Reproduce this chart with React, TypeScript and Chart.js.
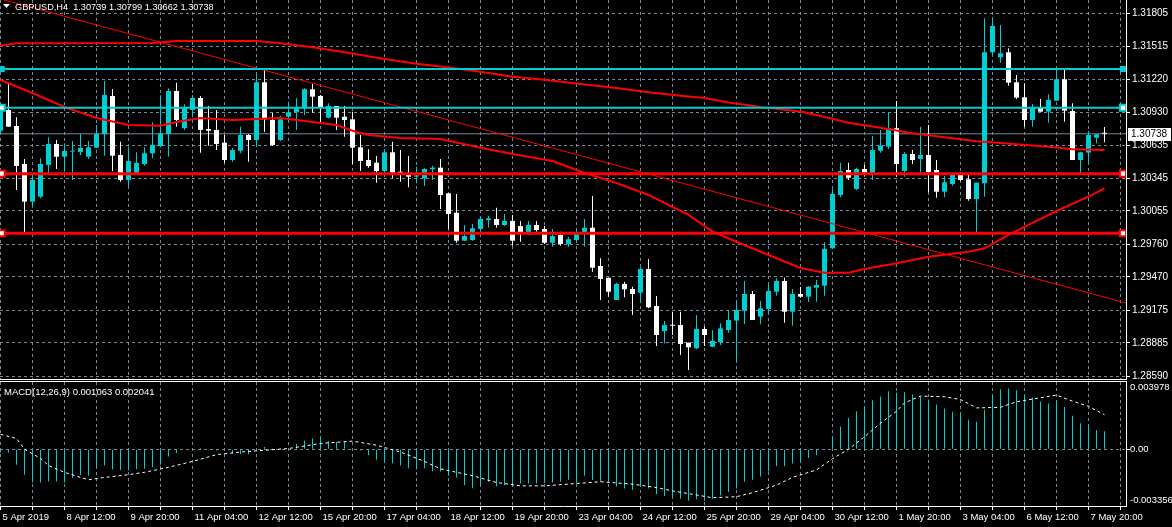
import React, { useEffect, useRef } from "react";
import { Chart, registerables } from "chart.js";

Chart.register(...registerables);

// ---------------- data ----------------
const symbol = "GBPUSD";
const timeframe = "H4";

const opens = [
  1.30765, 1.30949, 1.30807, 1.3047, 1.30137, 1.30181, 1.30462, 1.30648, 1.30535, 1.3058,
  1.30577, 1.30535, 1.30615, 1.30736, 1.31073, 1.3055, 1.30329, 1.30373, 1.3047, 1.30565,
  1.3063, 1.30736, 1.31117, 1.30787, 1.30949, 1.31055, 1.3078, 1.30772, 1.30659, 1.30506,
  1.30588, 1.30727, 1.30683, 1.31194, 1.3086, 1.30683, 1.30889, 1.30928, 1.30964, 1.31132,
  1.31073, 1.30881, 1.30984, 1.30889, 1.30866, 1.30618, 1.30506, 1.30482, 1.30408, 1.30574,
  1.30402, 1.30382, 1.30358, 1.30344, 1.30424, 1.30438, 1.30211, 1.30039, 1.29791, 1.29797,
  1.29895, 1.29974, 1.29983, 1.2993, 1.29966, 1.29921, 1.29857, 1.2993, 1.29895, 1.29773,
  1.29842, 1.29762, 1.29797, 1.29857, 1.29906, 1.29567, 1.29463, 1.29266, 1.29408, 1.29363,
  1.29331, 1.2954, 1.29213, 1.28991, 1.29044, 1.29044, 1.28888, 1.28838, 1.29009, 1.28852,
  1.28891, 1.29, 1.29083, 1.29171, 1.29319, 1.29118, 1.29186, 1.29339, 1.29434, 1.29162,
  1.29319, 1.29295, 1.29375, 1.29393, 1.29724, 1.30196, 1.30417, 1.30249, 1.30426, 1.30393,
  1.30588, 1.30624, 1.30787, 1.30408, 1.30559, 1.30515, 1.3055, 1.30417, 1.30225, 1.30293,
  1.30388, 1.30335, 1.3016, 1.303, 1.3146, 1.31416, 1.3146, 1.31194, 1.31061, 1.3086,
  1.30973, 1.30934, 1.31031, 1.31221, 1.3094, 1.30506, 1.30571, 1.30703, 1.30739,
];
const highs = [
  1.30993, 1.31191, 1.30884, 1.30515, 1.30373, 1.30521, 1.30707, 1.30683, 1.30654, 1.30674,
  1.30736, 1.30674, 1.30816, 1.31206, 1.31135, 1.30668, 1.30618, 1.30574, 1.30618, 1.3084,
  1.31079, 1.31141, 1.31191, 1.30999, 1.31082, 1.31073, 1.30984, 1.30949, 1.30727, 1.30609,
  1.30801, 1.30736, 1.31259, 1.31309, 1.30925, 1.30896, 1.31022, 1.31052, 1.31141, 1.31179,
  1.31082, 1.31008, 1.30984, 1.30984, 1.30934, 1.30727, 1.30601, 1.30541, 1.30601, 1.30668,
  1.30594, 1.30541, 1.30447, 1.30432, 1.30455, 1.30515, 1.30211, 1.30205, 1.2993, 1.29939,
  1.30004, 1.3001, 1.30083, 1.30028, 1.30019, 1.29966, 1.29966, 1.29966, 1.29921, 1.29895,
  1.29871, 1.29827, 1.29901, 1.29983, 1.30187, 1.29635, 1.29463, 1.29419, 1.29428, 1.29384,
  1.29555, 1.29629, 1.29301, 1.2908, 1.29162, 1.29162, 1.28888, 1.29133, 1.29029, 1.29,
  1.2906, 1.29171, 1.29251, 1.29434, 1.29346, 1.29257, 1.29399, 1.29458, 1.29463, 1.29363,
  1.29381, 1.2939, 1.29443, 1.29777, 1.30246, 1.30482, 1.30482, 1.30438, 1.30462, 1.30718,
  1.30772, 1.30928, 1.31028, 1.30574, 1.30594, 1.30801, 1.30816, 1.30506, 1.30364, 1.30393,
  1.30397, 1.30382, 1.30305, 1.31761, 1.3177, 1.31702, 1.31495, 1.31259, 1.31185, 1.31002,
  1.31046, 1.31088, 1.31303, 1.31303, 1.31008, 1.30579, 1.30763, 1.30734, 1.30799,
];
const lows = [
  1.30745, 1.30801, 1.3024, 1.29857, 1.30083, 1.30167, 1.30373, 1.30426, 1.30402, 1.30329,
  1.3055, 1.30515, 1.30615, 1.30544, 1.30408, 1.30314, 1.30276, 1.30373, 1.30455, 1.30521,
  1.30618, 1.30535, 1.30801, 1.30772, 1.30884, 1.30571, 1.30633, 1.30594, 1.30482, 1.30491,
  1.30565, 1.30491, 1.30624, 1.30757, 1.3063, 1.30674, 1.30851, 1.30772, 1.30904, 1.30925,
  1.30831, 1.30875, 1.30772, 1.30712, 1.30468, 1.30408, 1.30438, 1.30305, 1.30367, 1.30344,
  1.30314, 1.30264, 1.303, 1.30276, 1.30329, 1.30072, 1.29895, 1.29773, 1.29791, 1.29791,
  1.29835, 1.29906, 1.29906, 1.29921, 1.29747, 1.29782, 1.29842, 1.29871, 1.29762, 1.29738,
  1.29747, 1.29738, 1.29782, 1.29738, 1.29517, 1.29266, 1.29295, 1.29266, 1.2929, 1.29133,
  1.29251, 1.29192, 1.28858, 1.28882, 1.28956, 1.28779, 1.28646, 1.28829, 1.28858, 1.28847,
  1.28867, 1.28976, 1.28726, 1.29053, 1.29089, 1.29051, 1.29148, 1.29304, 1.29065, 1.29038,
  1.29286, 1.29248, 1.29251, 1.29304, 1.29724, 1.30176, 1.30329, 1.3024, 1.30367, 1.30329,
  1.30571, 1.30603, 1.30358, 1.30358, 1.3047, 1.30379, 1.3022, 1.30172, 1.30176, 1.30278,
  1.3032, 1.30145, 1.29862, 1.30181, 1.31436, 1.31368, 1.31164, 1.31046, 1.30801, 1.30801,
  1.30934, 1.30836, 1.31031, 1.30845, 1.30506, 1.30382, 1.30486, 1.30654, 1.30662,
];
const closes = [
  1.30949, 1.30801, 1.30453, 1.30137, 1.30329, 1.3047, 1.30648, 1.30535, 1.30586, 1.30586,
  1.30612, 1.30618, 1.30736, 1.31082, 1.30544, 1.30329, 1.30497, 1.30479, 1.30565, 1.30639,
  1.30742, 1.31117, 1.3086, 1.30969, 1.31055, 1.30772, 1.30765, 1.30648, 1.30506, 1.30594,
  1.30727, 1.30683, 1.31194, 1.30866, 1.30639, 1.30866, 1.30928, 1.30964, 1.31132, 1.31067,
  1.30969, 1.30984, 1.30881, 1.3086, 1.30615, 1.30497, 1.30453, 1.30408, 1.30574, 1.30393,
  1.30382, 1.30358, 1.3037, 1.30426, 1.30438, 1.30196, 1.30028, 1.29791, 1.29833, 1.29901,
  1.29983, 1.29989, 1.2993, 1.29966, 1.29791, 1.29862, 1.2993, 1.29886, 1.29773, 1.29833,
  1.29762, 1.29804, 1.29866, 1.29906, 1.29552, 1.29452, 1.29339, 1.29408, 1.29361, 1.29319,
  1.2954, 1.29201, 1.28956, 1.29044, 1.29038, 1.28876, 1.28847, 1.29009, 1.28956, 1.28905,
  1.29015, 1.29089, 1.29177, 1.29319, 1.29089, 1.29192, 1.29346, 1.29434, 1.29162, 1.29319,
  1.29295, 1.29384, 1.29399, 1.29718, 1.30205, 1.30408, 1.30349, 1.30426, 1.30393, 1.30594,
  1.30633, 1.30787, 1.3047, 1.30559, 1.30506, 1.3055, 1.304, 1.30225, 1.30308, 1.30388,
  1.30329, 1.3016, 1.30305, 1.3146, 1.31693, 1.31451, 1.31191, 1.31058, 1.3086, 1.30973,
  1.30934, 1.31037, 1.31221, 1.30943, 1.30506, 1.30574, 1.30727, 1.30734, 1.30738,
];

const slowMaBars = [0, 2, 19, 22, 32, 35, 39, 43, 48, 52, 56, 60, 64, 68, 72, 77, 81, 85, 88, 91, 95, 100, 102, 106, 110, 114, 118, 122, 127, 131, 134, 138];
const slowMaValues = [
  1.31518, 1.3154, 1.31542, 1.3156, 1.3156, 1.3154, 1.31504, 1.31461, 1.314, 1.31359, 1.31326,
  1.31288, 1.31244, 1.31217, 1.31183, 1.31144, 1.31106, 1.31075, 1.31055, 1.31016, 1.30975,
  1.30935, 1.30904, 1.30836, 1.30792, 1.30742, 1.30707, 1.30672, 1.30645, 1.30624, 1.30601, 1.30594,
];
const fastMaBars = [0, 4, 8, 12, 16, 20, 22, 25, 29, 32, 35, 37, 40, 42, 44, 46, 50, 55, 60, 64, 69, 73, 77, 81, 83, 86, 89, 92, 96, 100, 103, 106, 108, 112, 116, 121, 123, 126, 129, 132, 136, 138];
const fastMaValues = [
  1.31214, 1.31099, 1.30975, 1.30878, 1.30816, 1.3081, 1.30842, 1.30878, 1.3086, 1.30869,
  1.30878, 1.3086, 1.30834, 1.30816, 1.30765, 1.30727, 1.30701, 1.30692, 1.30615, 1.30559,
  1.30497, 1.30391, 1.30302, 1.30196, 1.30125, 1.30019, 1.29871, 1.29782, 1.29664, 1.29549,
  1.29508, 1.29508, 1.2954, 1.29591, 1.29649, 1.29694, 1.29724, 1.29842, 1.29948, 1.30054,
  1.30181, 1.30255,
];

const trendBars = [0, 141];
const trendValues = [1.31932, 1.29233];

const cyanLevels = [1.31312, 1.30969];
const redLevels = [1.30385, 1.29857];

const priceTickLabels = [
  "1.31805", "1.31515", "1.31220", "1.30930", "1.30635", "1.30345",
  "1.30055", "1.29760", "1.29470", "1.29175", "1.28885", "1.28590",
];
const timeLabels = [
  "5 Apr 2019", "8 Apr 12:00", "9 Apr 20:00", "11 Apr 04:00", "12 Apr 12:00", "15 Apr 20:00",
  "17 Apr 04:00", "18 Apr 12:00", "19 Apr 20:00", "23 Apr 04:00", "24 Apr 12:00", "25 Apr 20:00",
  "29 Apr 04:00", "30 Apr 12:00", "1 May 20:00", "3 May 04:00", "6 May 12:00", "7 May 20:00",
];

const macdHist = [
  -0.000198, -0.000198, -0.00092, -0.001503, -0.001965, -0.001965, -0.001905, -0.001905, -0.001965, -0.001701,
  -0.001521, -0.001563, -0.0011, -0.000962, -0.001202, -0.00122, -0.001262, -0.001184, -0.00116, -0.001064,
  -0.00092, -0.000421, -0.000222, -0.00003, -0.00003, 0.000078, -0.00006, -0.000078, -0.00006, -0.000258,
  -0.000301, -0.000301, -0.000078, 0.000138, 0.000042, 0.000012, 0.000018, 0.000319, 0.000499, 0.000643,
  0.000721, 0.000481, 0.000439, 0.000481, 0.00003, -0.000078, -0.000361, -0.000619, -0.000721, -0.000823,
  -0.000962, -0.001124, -0.001202, -0.001124, -0.001304, -0.001322, -0.001563, -0.001665, -0.002122, -0.002302,
  -0.002104, -0.001923, -0.002206, -0.002122, -0.002164, -0.002025, -0.002025, -0.002025, -0.002001, -0.001965,
  -0.001923, -0.001803, -0.002001, -0.001563, -0.001821, -0.001923, -0.001923, -0.002206, -0.002326, -0.002404,
  -0.002164, -0.002326, -0.002662, -0.002765, -0.002807, -0.002927, -0.003047, -0.002963, -0.003047, -0.002927,
  -0.002723, -0.002524, -0.002326, -0.001923, -0.001803, -0.001605, -0.001322, -0.001004, -0.001004, -0.000841,
  -0.000799, -0.000523, -0.000361, 0.00003, 0.000679, 0.00134, 0.001845, 0.002242, 0.002524, 0.002903,
  0.003125, 0.003426, 0.003348, 0.003366, 0.003245, 0.003125, 0.002945, 0.002644, 0.002404, 0.002224,
  0.002122, 0.001743, 0.001623, 0.002344, 0.003245, 0.003546, 0.003588, 0.003486, 0.003245, 0.003047,
  0.002825, 0.002705, 0.002843, 0.002506, 0.001983, 0.001545, 0.0014, 0.001142, 0.001063,
];
const signalBars = [0, 2, 3, 5, 6, 8, 10, 11, 13, 16, 18, 21, 24, 27, 30, 33, 36, 40, 44, 47, 50, 53, 55, 59, 62, 65, 68, 71, 75, 79, 82, 84, 87, 89, 92, 94, 97, 99, 102, 104, 106, 108, 110, 112, 113, 115, 118, 120, 122, 125, 127, 130, 132, 134, 136, 138];
const signalValues = [
  0.000883, 0.000643, 0, -0.000541, -0.000962, -0.001364, -0.001665, -0.001803, -0.001665, -0.001503,
  -0.001364, -0.001064, -0.000721, -0.000319, -0.000162, -0.00006, 0.000042, 0.000343, 0.000481, 0.00024,
  -0.000162, -0.000721, -0.00116, -0.001563, -0.001965, -0.002164, -0.002164, -0.002061, -0.001923, -0.002061,
  -0.002266, -0.002464, -0.002705, -0.002867, -0.002807, -0.002566, -0.002122, -0.001665, -0.00122, -0.000559,
  0, 0.000739, 0.001545, 0.002242, 0.002747, 0.003143, 0.003107, 0.002945, 0.002446, 0.002482,
  0.002807, 0.003047, 0.003203, 0.002843, 0.002542, 0.002041,
];
const macdTickLabels = ["-0.003356", "0.00", "0.003978"];

// ---------------- layout / style ----------------
const W = 1172;
const MAIN_H = 380;
const SUB_H = 147;
const AXIS_W = 46;
const X_MIN = -0.0625;
const X_MAX = 140.6875;
const PRICE_MIN = 1.28566;
const PRICE_MAX = 1.31923;
const MACD_MIN = parseFloat(macdTickLabels[0]);
const MACD_MAX = parseFloat(macdTickLabels[2]);

const CYAN = "#00CED1";
const WHITE = "#FFFFFF";
const RED = "#FF0000";
const GRID = "#778899";
const FONT = "'Liberation Sans', Arial, sans-serif";

Chart.defaults.font.family = FONT;
Chart.defaults.font.size = 10;
Chart.defaults.color = WHITE;

const idx = opens.map((_, i) => i);
const candleColors = idx.map((i) => (closes[i] > opens[i] ? CYAN : WHITE));
const gridTicks = [];
for (let v = 0; v <= 140; v += 4) gridTicks.push({ value: v });

function levelDataset(value, color, width, solidHandle) {
  return {
    type: "line",
    data: [
      { x: X_MIN, y: value },
      { x: 0.15, y: value },
      { x: 140.3, y: value },
      { x: X_MAX, y: value },
    ],
    borderColor: color,
    borderWidth: width,
    pointRadius: [0, 4.3, 4.3, 0],
    pointStyle: "rect",
    pointBackgroundColor: solidHandle ? color : WHITE,
    pointBorderColor: color,
    pointBorderWidth: solidHandle ? 0 : 2,
    order: 1,
  };
}

function mainConfig() {
  const last = closes[closes.length - 1];
  const title = `${symbol},${timeframe}  ${opens[opens.length - 1].toFixed(5)} ${highs[highs.length - 1].toFixed(5)} ${lows[lows.length - 1].toFixed(5)} ${last.toFixed(5)}`;
  const decor = {
    id: "mainDecor",
    afterDraw(chart) {
      const { ctx, chartArea, scales } = chart;
      ctx.save();
      ctx.fillStyle = WHITE;
      ctx.beginPath();
      ctx.moveTo(3, 4);
      ctx.lineTo(10, 4);
      ctx.lineTo(6.5, 8);
      ctx.closePath();
      ctx.fill();
      ctx.font = `9.2px ${FONT}`;
      ctx.textBaseline = "middle";
      ctx.textAlign = "left";
      ctx.fillText(title, 15, 7.5);
      const py = Math.round(scales.y.getPixelForValue(last));
      ctx.fillStyle = WHITE;
      ctx.fillRect(chartArea.right + 2, py - 6, 43, 13);
      ctx.fillStyle = "#000000";
      ctx.font = `10px ${FONT}`;
      ctx.fillText(last.toFixed(5), chartArea.right + 5, py + 0.5);
      ctx.restore();
    },
  };
  return {
    type: "bar",
    data: {
      datasets: [
        levelDataset(cyanLevels[0], CYAN, 2, true),
        levelDataset(cyanLevels[1], CYAN, 2, false),
        levelDataset(redLevels[0], RED, 3, false),
        levelDataset(redLevels[1], RED, 3, false),
        {
          type: "line",
          data: trendBars.map((b, i) => ({ x: b, y: trendValues[i] })),
          borderColor: RED,
          borderWidth: 1,
          pointRadius: 0,
          order: 2,
        },
        {
          type: "line",
          data: slowMaBars.map((b, i) => ({ x: b, y: slowMaValues[i] })),
          borderColor: RED,
          borderWidth: 2,
          pointRadius: 0,
          order: 3,
        },
        {
          type: "line",
          data: fastMaBars.map((b, i) => ({ x: b, y: fastMaValues[i] })),
          borderColor: RED,
          borderWidth: 2,
          pointRadius: 0,
          order: 3,
        },
        {
          type: "bar",
          data: idx.map((i) => ({ x: i, y: [opens[i], closes[i]] })),
          backgroundColor: candleColors,
          barThickness: 5,
          minBarLength: 1,
          grouped: false,
          inflateAmount: 0,
          borderWidth: 0,
          order: 4,
        },
        {
          type: "bar",
          data: idx.map((i) => ({ x: i, y: [lows[i], highs[i]] })),
          backgroundColor: candleColors,
          barThickness: 1,
          minBarLength: 1,
          grouped: false,
          inflateAmount: 0,
          borderWidth: 0,
          order: 5,
        },
        {
          type: "line",
          data: [
            { x: X_MIN, y: last },
            { x: X_MAX, y: last },
          ],
          borderColor: GRID,
          borderWidth: 1,
          pointRadius: 0,
          order: 6,
        },
      ],
    },
    options: {
      animation: false,
      responsive: false,
      maintainAspectRatio: false,
      devicePixelRatio: 1,
      events: [],
      layout: { padding: { left: 0, right: 0, top: 0, bottom: 1 }, autoPadding: false },
      plugins: { legend: { display: false }, tooltip: { enabled: false }, title: { display: false } },
      scales: {
        x: {
          type: "linear",
          min: X_MIN,
          max: X_MAX,
          offset: false,
          grid: { offset: false, color: GRID, lineWidth: 1, drawTicks: false },
          border: { display: true, color: WHITE, width: 1, dash: [3, 3] },
          ticks: { display: false },
          afterBuildTicks: (s) => {
            s.ticks = gridTicks.map((t) => ({ value: t.value }));
          },
          afterFit: (s) => {
            s.height = 0;
            s.paddingLeft = 0;
            s.paddingRight = 0;
          },
        },
        y: {
          type: "linear",
          position: "right",
          min: PRICE_MIN,
          max: PRICE_MAX,
          beginAtZero: false,
          grid: { color: GRID, lineWidth: 1, drawTicks: true, tickLength: 4, tickColor: WHITE },
          border: { display: true, color: WHITE, width: 1, dash: [3, 3] },
          ticks: {
            autoSkip: false,
            padding: 2,
            color: WHITE,
            font: { size: 10, family: FONT },
            callback: (v) => Number(v).toFixed(5),
          },
          afterBuildTicks: (s) => {
            s.ticks = priceTickLabels.map((t) => ({ value: parseFloat(t) })).reverse();
          },
          afterFit: (s) => {
            s.width = AXIS_W;
            s.paddingTop = 0;
            s.paddingBottom = 0;
          },
        },
      },
    },
    plugins: [decor],
  };
}

function subConfig() {
  const decor = {
    id: "subDecor",
    afterDraw(chart) {
      const { ctx, chartArea } = chart;
      ctx.save();
      ctx.strokeStyle = WHITE;
      ctx.lineWidth = 1;
      ctx.beginPath();
      ctx.moveTo(0, chartArea.top - 0.5);
      ctx.lineTo(chartArea.right + 1, chartArea.top - 0.5);
      ctx.stroke();
      ctx.fillStyle = WHITE;
      ctx.font = `9.5px ${FONT}`;
      ctx.textBaseline = "middle";
      ctx.textAlign = "left";
      const txt = `MACD(12,26,9) ${macdHist[macdHist.length - 1].toFixed(6)} ${signalValues[signalValues.length - 1].toFixed(6)}`;
      ctx.fillText(txt, 4, chartArea.top + 10);
      ctx.restore();
    },
  };
  return {
    type: "bar",
    data: {
      datasets: [
        {
          type: "line",
          data: signalBars.map((b, i) => ({ x: b, y: signalValues[i] })),
          borderColor: WHITE,
          borderWidth: 1,
          borderDash: [3, 3],
          pointRadius: 0,
          order: 1,
        },
        {
          type: "bar",
          data: idx.map((i) => ({ x: i, y: macdHist[i] })),
          backgroundColor: CYAN,
          barThickness: 1,
          grouped: false,
          inflateAmount: 0,
          borderWidth: 0,
          order: 2,
        },
      ],
    },
    options: {
      animation: false,
      responsive: false,
      maintainAspectRatio: false,
      devicePixelRatio: 1,
      events: [],
      layout: { padding: { left: 0, right: 0, top: 2, bottom: 0 }, autoPadding: false },
      plugins: { legend: { display: false }, tooltip: { enabled: false }, title: { display: false } },
      scales: {
        x: {
          type: "linear",
          min: X_MIN,
          max: X_MAX,
          offset: false,
          grid: { offset: false, color: GRID, lineWidth: 1, drawTicks: true, tickLength: 4, tickColor: WHITE },
          border: { display: true, color: WHITE, width: 1, dash: [3, 3] },
          ticks: {
            autoSkip: false,
            maxRotation: 0,
            minRotation: 0,
            align: "start",
            labelOffset: 2,
            padding: 2,
            color: WHITE,
            font: { size: 9.5, family: FONT },
            callback: (v) => (Number(v) % 8 === 0 ? timeLabels[Number(v) / 8] || "" : ""),
          },
          afterBuildTicks: (s) => {
            s.ticks = gridTicks.map((t) => ({ value: t.value }));
          },
          afterFit: (s) => {
            s.height = 21;
            s.paddingLeft = 0;
            s.paddingRight = 0;
          },
        },
        y: {
          type: "linear",
          position: "right",
          min: MACD_MIN,
          max: MACD_MAX,
          beginAtZero: false,
          grid: {
            color: (c) => (c.tick && c.tick.value === 0 ? GRID : "rgba(0,0,0,0)"),
            lineWidth: 1,
            drawTicks: true,
            tickLength: 4,
            tickColor: (c) => (c.tick && c.tick.value === 0 ? WHITE : "rgba(0,0,0,0)"),
          },
          border: { display: true, color: WHITE, width: 1, dash: [3, 3] },
          ticks: {
            autoSkip: false,
            padding: 0,
            color: WHITE,
            font: { size: 9.5, family: FONT },
            callback: (v) => {
              const n = Number(v);
              if (n === MACD_MAX) return ["", macdTickLabels[2]];
              if (n === MACD_MIN) return [macdTickLabels[0], ""];
              return macdTickLabels[1];
            },
          },
          afterBuildTicks: (s) => {
            s.ticks = macdTickLabels.map((t) => ({ value: parseFloat(t) }));
          },
          afterFit: (s) => {
            s.width = AXIS_W;
            s.paddingTop = 0;
            s.paddingBottom = 0;
          },
        },
      },
    },
    plugins: [decor],
  };
}

export default function App() {
  const mainRef = useRef(null);
  const subRef = useRef(null);
  useEffect(() => {
    document.body.style.margin = "0";
    document.body.style.background = "#000";
    const main = new Chart(mainRef.current, mainConfig() as any);
    const sub = new Chart(subRef.current, subConfig() as any);
    return () => {
      main.destroy();
      sub.destroy();
    };
  }, []);
  return (
    <div style={{ position: "relative", width: W, height: MAIN_H + SUB_H, background: "#000", overflow: "hidden" }}>
      <canvas
        ref={mainRef}
        width={W}
        height={MAIN_H}
        style={{ position: "absolute", left: 0, top: 0, width: W, height: MAIN_H }}
      />
      <canvas
        ref={subRef}
        width={W}
        height={SUB_H}
        style={{ position: "absolute", left: 0, top: MAIN_H, width: W, height: SUB_H }}
      />
    </div>
  );
}
